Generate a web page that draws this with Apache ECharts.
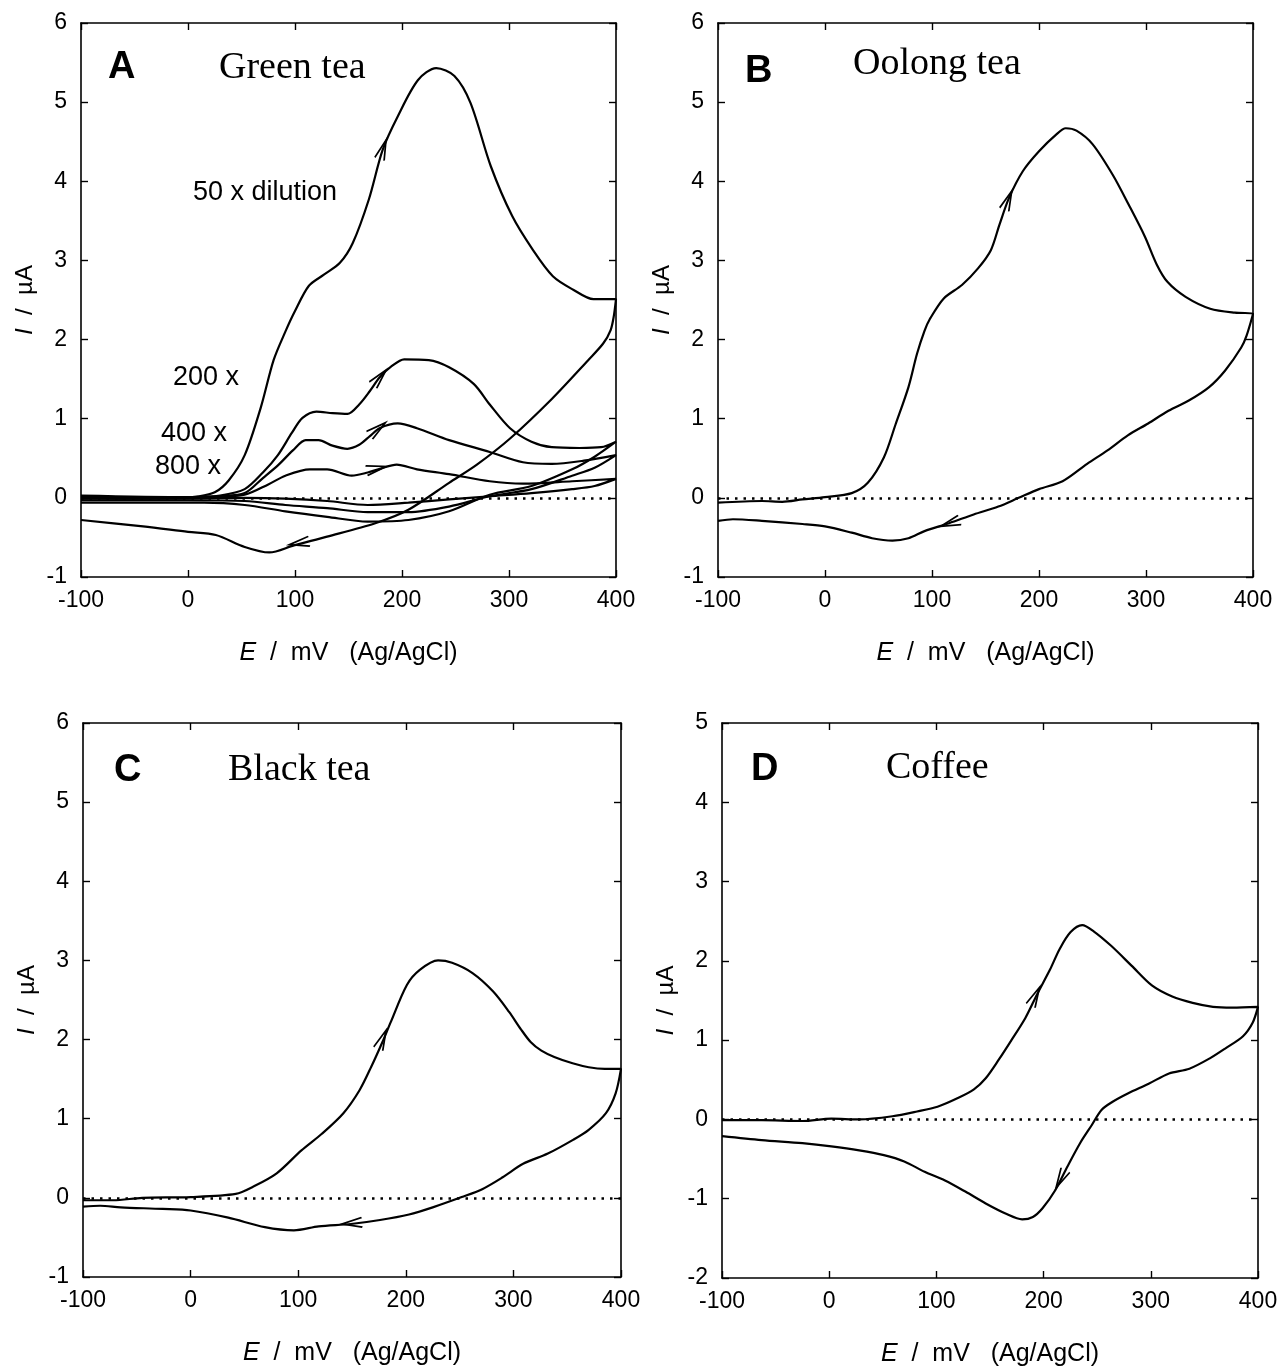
<!DOCTYPE html>
<html>
<head>
<meta charset="utf-8">
<title>Cyclic voltammograms</title>
<script src="https://cdn.jsdelivr.net/npm/echarts@6/dist/echarts.min.js"></script>
<style>
  html, body { margin: 0; padding: 0; background: #fff; }
  #chart { width: 1278px; height: 1368px; }
</style>
</head>
<body>
<div id="chart"></div>
<script>
// potential scan, mV vs Ag/AgCl
const xTicks = [-100, 0, 100, 200, 300, 400]
const yRangeTea = [-1, 6]
const yRangeCoffee = [-2, 5]

// [E (mV), I (uA)] - forward scan then reverse scan
const greenTea50 = [[-100,0.02],[-70,0.0],[-40,0.01],[-10,0.0],[10,0.02],[25,0.07],[38,0.22],[53,0.54],[68,1.14],[80,1.74],[91,2.1],[100,2.36],[113,2.68],[127,2.82],[142,2.97],[154,3.22],[169,3.77],[182,4.40],[196,4.82],[215,5.28],[232,5.43],[249,5.33],[264,4.99],[283,4.19],[303,3.56],[322,3.14],[341,2.80],[360,2.63],[379,2.51],[400,2.51],
  [398,2.3],[395,2.12],[388,1.95],[374,1.74],[340,1.25],[301,0.75],[270,0.42],[244,0.19],[206,-0.15],[175,-0.32],[130,-0.49],[99,-0.60],[76,-0.69],[53,-0.62],[26,-0.47],[0,-0.43],[-42,-0.36],[-100,-0.28]]
const greenTea200 = [[-100,0.0],[-50,-0.01],[0,0.0],[30,0.03],[53,0.11],[70,0.32],[84,0.54],[97,0.82],[107,1.01],[120,1.09],[135,1.07],[149,1.06],[160,1.18],[170,1.35],[179,1.52],[190,1.66],[202,1.75],[225,1.74],[244,1.65],[267,1.44],[282,1.18],[301,0.88],[321,0.71],[340,0.64],[366,0.63],[386,0.64],[400,0.71],
  [380,0.52],[359,0.36],[321,0.15],[282,0.04],[244,-0.17],[206,-0.28],[168,-0.30],[130,-0.24],[91,-0.17],[53,-0.09],[15,-0.06],[-100,-0.06]]
const greenTea400 = [[-100,0.02],[0,0.0],[30,0.02],[53,0.06],[70,0.25],[84,0.41],[98,0.6],[110,0.73],[122,0.73],[135,0.66],[149,0.62],[160,0.67],[170,0.78],[179,0.88],[196,0.94],[214,0.88],[244,0.73],[282,0.58],[313,0.45],[340,0.43],[370,0.47],[400,0.54],
  [380,0.38],[359,0.28],[321,0.11],[282,0.02],[244,-0.11],[206,-0.18],[168,-0.18],[130,-0.13],[91,-0.09],[53,-0.04],[0,-0.03],[-100,-0.03]]
const greenTea800 = [[-100,0.03],[0,0.01],[30,0.02],[53,0.04],[75,0.17],[91,0.28],[114,0.36],[130,0.36],[153,0.28],[168,0.32],[180,0.37],[195,0.42],[214,0.36],[244,0.30],[282,0.21],[313,0.18],[359,0.21],[400,0.24],
  [380,0.15],[359,0.11],[321,0.06],[282,0.02],[244,-0.02],[206,-0.06],[168,-0.09],[130,-0.04],[91,-0.01],[53,0.0],[0,-0.01],[-100,-0.01]]

const oolongTea = [[-100,-0.06],[-59,-0.04],[-40,-0.05],[-21,-0.02],[0,0.01],[25,0.06],[40,0.19],[55,0.51],[66,0.93],[78,1.40],[86,1.82],[93,2.11],[98,2.26],[111,2.52],[128,2.69],[143,2.90],[155,3.13],[163,3.45],[172,3.79],[185,4.13],[200,4.38],[216,4.59],[225,4.67],[235,4.64],[250,4.47],[269,4.08],[284,3.70],[299,3.30],[310,2.95],[320,2.73],[337,2.54],[360,2.39],[383,2.34],[400,2.33],
  [394,2.05],[389,1.90],[374,1.61],[359,1.40],[340,1.23],[321,1.10],[302,0.94],[283,0.79],[264,0.60],[245,0.43],[222,0.21],[200,0.11],[181,0.0],[162,-0.11],[139,-0.21],[116,-0.32],[93,-0.42],[78,-0.51],[63,-0.54],[44,-0.51],[25,-0.44],[0,-0.36],[-21,-0.33],[-59,-0.29],[-86,-0.27],[-100,-0.29]]

const blackTea = [[-100,-0.03],[-72,-0.03],[-45,0.0],[0,0.01],[42,0.05],[58,0.14],[80,0.31],[103,0.60],[122,0.81],[142,1.07],[157,1.36],[168,1.66],[178,1.96],[186,2.22],[201,2.69],[213,2.88],[230,3.0],[243,2.97],[262,2.84],[281,2.61],[296,2.35],[307,2.13],[316,1.97],[326,1.86],[338,1.78],[355,1.70],[370,1.65],[385,1.63],[400,1.63],
  [395,1.32],[386,1.07],[370,0.86],[355,0.73],[332,0.56],[309,0.43],[290,0.26],[271,0.11],[252,0.01],[225,-0.12],[203,-0.21],[176,-0.28],[149,-0.33],[119,-0.36],[96,-0.41],[69,-0.37],[35,-0.25],[0,-0.16],[-26,-0.14],[-65,-0.12],[-84,-0.10],[-100,-0.11]]

const coffee = [[-100,-0.01],[-63,-0.01],[-25,-0.02],[2,0.01],[28,0.0],[59,0.04],[82,0.10],[101,0.16],[120,0.27],[135,0.38],[146,0.52],[158,0.75],[170,1.0],[183,1.28],[194,1.58],[206,1.89],[215,2.15],[225,2.36],[236,2.45],[247,2.37],[263,2.19],[282,1.94],[301,1.69],[320,1.55],[339,1.47],[358,1.42],[376,1.41],[400,1.42],
  [395,1.22],[386,1.05],[370,0.90],[355,0.77],[336,0.64],[317,0.58],[298,0.45],[279,0.33],[264,0.22],[254,0.12],[245,-0.07],[234,-0.30],[222,-0.60],[211,-0.89],[199,-1.12],[190,-1.23],[180,-1.26],[165,-1.19],[146,-1.06],[127,-0.91],[108,-0.77],[89,-0.66],[70,-0.53],[51,-0.45],[28,-0.39],[2,-0.34],[-25,-0.30],[-63,-0.26],[-100,-0.21]]

// scan direction arrows: [E, I, rotation deg]
const arrowsA = [[182,4.40,-19],[179,1.52,-41],[177,0.87,-52],[176,0.37,-78],[104,-0.57,100]]
const arrowsB = [[171,3.76,-22],[117,-0.32,109]]
const arrowsC = [[178,2.0,-23],[150,-0.32,95]]
const arrowsD = [[192,1.55,-26],[216,-0.75,152]]

const SANS = '"Liberation Sans", Arial, Helvetica, sans-serif'
const SERIF = '"Liberation Serif", "Times New Roman", serif'

const panels = [
  { grid: { left: 81, top: 23, width: 535, height: 554 }, yRange: yRangeTea,
    curves: [greenTea50, greenTea200, greenTea400, greenTea800], arrows: arrowsA },
  { grid: { left: 718, top: 23, width: 535, height: 554 }, yRange: yRangeTea,
    curves: [oolongTea], arrows: arrowsB },
  { grid: { left: 83, top: 723, width: 538, height: 554 }, yRange: yRangeTea,
    curves: [blackTea], arrows: arrowsC },
  { grid: { left: 722, top: 723, width: 536, height: 555 }, yRange: yRangeCoffee,
    curves: [coffee], arrows: arrowsD }
]

const axisLine = { show: true, onZero: false, lineStyle: { color: '#000', width: 1.6 } }
const tickIn = { show: true, inside: true, length: 7, lineStyle: { color: '#000', width: 1.4 } }

const grids = []
const xAxes = []
const yAxes = []
const series = []

panels.forEach((p, i) => {
  grids.push(Object.assign({ outerBoundsMode: 'none', containLabel: false }, p.grid))
  const xBase = {
    type: 'value', gridIndex: i, min: xTicks[0], max: xTicks[xTicks.length - 1], interval: 100,
    splitLine: { show: false }, axisLine, axisTick: tickIn
  }
  xAxes.push(Object.assign({}, xBase, {
    position: 'bottom',
    axisLabel: { color: '#000', fontSize: 23, fontFamily: SANS, margin: 12 },
    name: '{i|E}  /  mV   (Ag/AgCl)',
    nameLocation: 'middle',
    nameGap: 64,
    nameTextStyle: {
      color: '#000', fontSize: 25, fontFamily: SANS,
      rich: { i: { fontStyle: 'italic', fontSize: 25, fontFamily: SANS, color: '#000' } }
    }
  }))
  xAxes.push(Object.assign({}, xBase, { position: 'top', axisLabel: { show: false } }))

  const yBase = {
    type: 'value', gridIndex: i, min: p.yRange[0], max: p.yRange[1], interval: 1,
    splitLine: { show: false }, axisLine, axisTick: tickIn
  }
  yAxes.push(Object.assign({}, yBase, {
    position: 'left',
    axisLabel: { color: '#000', fontSize: 23, fontFamily: SANS, margin: 14 },
    name: '{i|I}  /  µA',
    nameLocation: 'middle',
    nameGap: 44,
    nameTextStyle: {
      color: '#000', fontSize: 24, fontFamily: SANS,
      rich: { i: { fontStyle: 'italic', fontSize: 24, fontFamily: SANS, color: '#000' } }
    }
  }))
  yAxes.push(Object.assign({}, yBase, { position: 'right', axisLabel: { show: false } }))

  p.curves.forEach((c, k) => {
    const s = {
      type: 'line', xAxisIndex: 2 * i, yAxisIndex: 2 * i, data: c,
      showSymbol: false, smooth: 0.3, clip: true, silent: true,
      lineStyle: { color: '#000', width: 2.2 }
    }
    if (k === 0) {
      s.markLine = {
        silent: true, symbol: 'none', label: { show: false },
        lineStyle: { color: '#000', type: [2.5, 6], width: 2.5 },
        data: [{ yAxis: 0 }]
      }
      s.markPoint = {
        silent: true,
        symbol: 'path://M0,20 L7,0 L14,20',
        symbolSize: [14, 20],
        symbolKeepAspect: true,
        label: { show: false },
        itemStyle: { color: 'transparent', borderColor: '#000', borderWidth: 2 },
        data: p.arrows.map(a => ({ coord: [a[0], a[1]], symbolRotate: a[2] }))
      }
    }
    series.push(s)
  })
})

function txt(x, y, text, font) {
  return { type: 'text', x, y, silent: true,
    style: { text, font, fill: '#000', align: 'left', verticalAlign: 'middle' } }
}

const graphic = [
  txt(108, 68, 'A', 'bold 38px ' + SANS),
  txt(219, 68, 'Green tea', '38px ' + SERIF),
  txt(193, 193, '50 x dilution', '27px ' + SANS),
  txt(173, 378, '200 x', '27px ' + SANS),
  txt(161, 434, '400 x', '27px ' + SANS),
  txt(155, 467, '800 x', '27px ' + SANS),
  txt(745, 72, 'B', 'bold 38px ' + SANS),
  txt(853, 64, 'Oolong tea', '38px ' + SERIF),
  txt(114, 771, 'C', 'bold 38px ' + SANS),
  txt(228, 770, 'Black tea', '38px ' + SERIF),
  txt(751, 770, 'D', 'bold 38px ' + SANS),
  txt(886, 768, 'Coffee', '38px ' + SERIF)
]

const chart = echarts.init(document.getElementById('chart'), null, { renderer: 'canvas' })
chart.setOption({
  animation: false,
  backgroundColor: '#fff',
  grid: grids,
  xAxis: xAxes,
  yAxis: yAxes,
  series,
  graphic
})
</script>
</body>
</html>
